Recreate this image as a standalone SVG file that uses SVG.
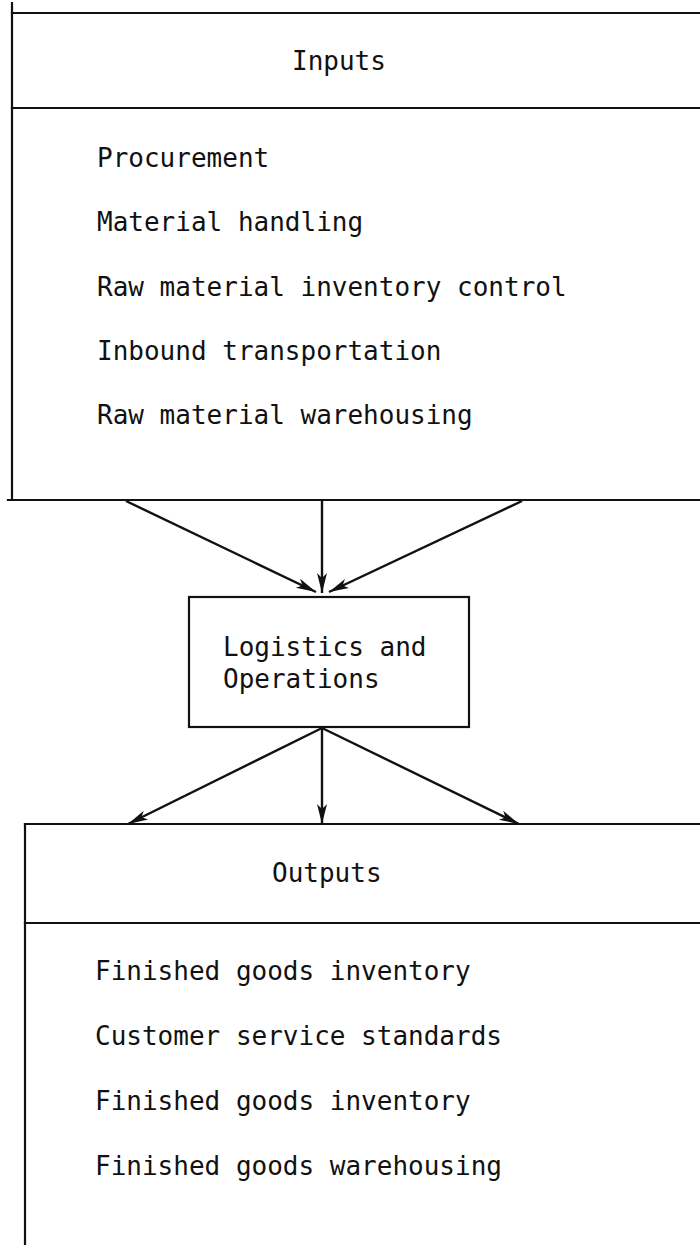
<svg xmlns="http://www.w3.org/2000/svg" width="700" height="1245" viewBox="0 0 700 1245">
  <style>
    .ln { stroke: #111; stroke-width: 2.2; fill: none; stroke-linecap: square; }
    .tx { font-family: "DejaVu Sans Mono", "Liberation Mono", monospace; font-size: 26px; fill: #111; }
    .cn { stroke: #111; stroke-width: 2.4; fill: none; }
  </style>
  <defs>
    <marker id="ah" markerUnits="userSpaceOnUse" markerWidth="22" markerHeight="14" refX="20" refY="6" orient="auto">
      <path d="M0,1 L20,6 L0,11 L5,6 Z" fill="#111"/>
    </marker>
  </defs>
  <rect width="700" height="1245" fill="#fff"/>

  <g id="inputs">
    <line class="ln" x1="12" y1="3" x2="12" y2="500"/>
    <line class="ln" x1="12" y1="13" x2="700" y2="13"/>
    <line class="ln" x1="12" y1="108" x2="700" y2="108"/>
    <line class="ln" x1="8" y1="500" x2="700" y2="500"/>
    <text class="tx" x="292" y="70">Inputs</text>
    <text class="tx" x="97" y="167">Procurement</text>
    <text class="tx" x="97" y="231">Material handling</text>
    <text class="tx" x="97" y="296">Raw material inventory control</text>
    <text class="tx" x="97" y="360">Inbound transportation</text>
    <text class="tx" x="97" y="424">Raw material warehousing</text>
  </g>

  <g id="logistics">
    <rect class="ln" x="189" y="597" width="280" height="130"/>
    <text class="tx" x="223" y="656">Logistics and</text>
    <text class="tx" x="223" y="688">Operations</text>
  </g>

  <g id="outputs">
    <line class="ln" x1="25" y1="824" x2="25" y2="1245"/>
    <line class="ln" x1="25" y1="824" x2="700" y2="824"/>
    <line class="ln" x1="25" y1="923" x2="700" y2="923"/>
    <text class="tx" x="272" y="882">Outputs</text>
    <text class="tx" x="95" y="980">Finished goods inventory</text>
    <text class="tx" x="95" y="1045">Customer service standards</text>
    <text class="tx" x="95" y="1110">Finished goods inventory</text>
    <text class="tx" x="95" y="1175">Finished goods warehousing</text>
  </g>

  <g id="connectors">
    <line class="cn" x1="126" y1="501" x2="316" y2="592" marker-end="url(#ah)"/>
    <line class="cn" x1="322" y1="501" x2="322" y2="593" marker-end="url(#ah)"/>
    <line class="cn" x1="522" y1="501" x2="329" y2="592" marker-end="url(#ah)"/>
    <line class="cn" x1="322" y1="728" x2="128" y2="824" marker-end="url(#ah)"/>
    <line class="cn" x1="322" y1="728" x2="322" y2="824" marker-end="url(#ah)"/>
    <line class="cn" x1="322" y1="728" x2="519" y2="824" marker-end="url(#ah)"/>
  </g>
</svg>
